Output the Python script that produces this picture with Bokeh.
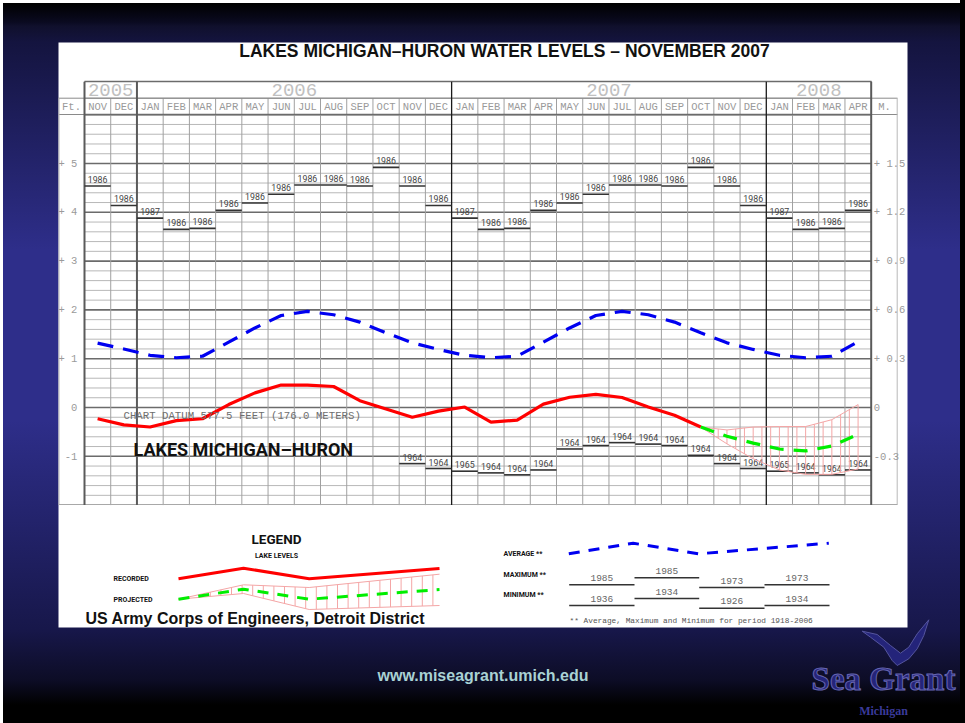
import numpy as np
from bokeh.embed import file_html
from bokeh.models import Range1d
from bokeh.plotting import figure
from bokeh.resources import INLINE
from bokeh.core.properties import value

# ---------- data ----------
months = ["NOV","DEC","JAN","FEB","MAR","APR","MAY","JUN","JUL","AUG","SEP","OCT","NOV","DEC",
          "JAN","FEB","MAR","APR","MAY","JUN","JUL","AUG","SEP","OCT","NOV","DEC","JAN","FEB","MAR","APR"]
years = ["2005","2006","2007","2008"]
year_starts = [0, 2, 14, 26]
year_ends = [2, 14, 26, 30]
ft_ticks = [5, 4, 3, 2, 1, 0, -1]
ft_labels = ["+ 5","+ 4","+ 3","+ 2","+ 1","0","-1"]
m_ticks = [5, 4, 3, 2, 1, 0, -1]
m_labels = ["+ 1.5","+ 1.2","+ 0.9","+ 0.6","+ 0.3","0","-0.3"]

max_level = [4.54,4.14,3.88,3.65,3.67,4.04,4.19,4.37,4.56,4.56,4.54,4.92,4.54,4.14,
             3.88,3.65,3.67,4.04,4.19,4.37,4.56,4.56,4.54,4.92,4.54,4.14,3.88,3.65,3.67,4.04]
max_year = ["1986","1986","1987","1986","1986","1986","1986","1986","1986","1986","1986","1986","1986","1986",
            "1987","1986","1986","1986","1986","1986","1986","1986","1986","1986","1986","1986","1987","1986","1986","1986"]
min_index = list(range(12, 30))
min_level = [-1.15,-1.25,-1.305,-1.34,-1.38,-1.28,-0.85,-0.78,-0.72,-0.75,-0.78,-0.98,-1.15,-1.25,-1.305,-1.34,-1.38,-1.28]
min_year = ["1964","1964","1965","1964","1964","1964","1964","1964","1964","1964","1964","1964","1964","1964","1965","1964","1964","1964"]
average = [1.32,1.20,1.07,1.02,1.05,1.34,1.63,1.885,1.97,1.90,1.75,1.53,1.325,1.19,
           1.07,1.02,1.05,1.34,1.63,1.885,1.97,1.90,1.75,1.53,1.325,1.19,1.07,1.02,1.05,1.35]
recorded = [-0.23,-0.355,-0.40,-0.27,-0.23,0.06,0.30,0.46,0.46,0.43,0.14,-0.03,-0.20,-0.075,
            0.01,-0.30,-0.26,0.07,0.21,0.27,0.205,0.01,-0.16,-0.40]
proj_index = [23, 24, 25, 26, 27, 28, 29]
projected = [-0.40,-0.59,-0.73,-0.85,-0.89,-0.79,-0.55]
proj_upper = [-0.40,-0.46,-0.40,-0.39,-0.39,-0.25,0.06]
proj_lower = [-0.40,-0.745,-1.05,-1.28,-1.37,-1.37,-1.26]

title = "LAKES MICHIGAN\u2013HURON WATER LEVELS \u2013 NOVEMBER 2007"

leg_x = [178, 243, 308.7, 439]
leg_recorded = [578.3, 567.7, 578.3, 568]
leg_projected = [598.7, 588.7, 598.7, 589]
leg_upper = [598.7, 584.3, 587, 573.7]
leg_lower = [598.7, 593, 609, 605]
leg_avg_x = [568.3, 632.7, 698.3, 828.3]
leg_avg = [553.3, 542.7, 553.3, 542.7]
leg_step_x = [568.7, 634, 698.7, 764, 829]
leg_max = [584.3, 577.3, 587, 584.3]
leg_min = [605, 598, 607.7, 605]
leg_max_year = ["1985", "1985", "1973", "1973"]
leg_min_year = ["1936", "1934", "1926", "1934"]

# ---------- scales ----------
W, H = 965, 723
X0, XPM = 84.0, 26.223
Y0, YPF = 407.0, 48.8
p = figure(width=W, height=H, output_backend="svg", toolbar_location=None,
           x_range=Range1d(-X0 / XPM, (W - X0) / XPM),
           y_range=Range1d((Y0 - H) / YPF, Y0 / YPF),
           min_border=0, border_fill_color=None, background_fill_color=None,
           outline_line_color=None)
p.axis.visible = False
p.grid.visible = False
p.extra_x_ranges["px"] = Range1d(0, W)
p.extra_y_ranges["px"] = Range1d(H, 0)
PX = dict(x_range_name="px", y_range_name="px")

MONO = value("Liberation Mono")
COND = value("Roboto")
SANS = value("Liberation Sans")
CAD = "#9a9a9a"

# white sheet
p.quad(left=[58], right=[907], top=[42], bottom=[627], fill_color="white", line_color=None, **PX)

# grid
minor = [v / 10 for v in range(-20, 62, 2) if v % 10 != 0]
p.segment(x0=[0] * len(minor), x1=[30] * len(minor), y0=minor, y1=minor, line_color="#b8b8b8", line_width=1)
major = list(range(-1, 7))
p.segment(x0=[0] * len(major), x1=[30] * len(major), y0=major, y1=major, line_color="#6b6b6b", line_width=1.6)
vx = [i for i in range(1, 30) if i not in year_starts]
p.segment(x0=vx, x1=vx, y0=[-2] * len(vx), y1=[6 + 16.3 / YPF] * len(vx), line_color="#a0a0a0", line_width=1)

# header cells (page pixels)
p.segment(x0=[84, 84, 58, 58], x1=[871, 871, 897, 897], y0=[81, 97.7, 97.7, 114], y1=[81, 97.7, 97.7, 114],
          line_color="#8a8a8a", line_width=1, **PX)
p.segment(x0=[84, 84], x1=[871, 871], y0=[81, 114], y1=[81, 114], line_color="#6b6b6b", line_width=1.6, **PX)
p.segment(x0=[58.5, 896.7], x1=[58.5, 896.7], y0=[97.7, 97.7], y1=[504, 504], line_color="#b8b8b8", line_width=1, **PX)
p.segment(x0=[58], x1=[897], y0=[504], y1=[504], line_color="#a8a8a8", line_width=1, **PX)

# year separators
p.segment(x0=[0, 2, 30], x1=[0, 2, 30], y0=[-2] * 3, y1=[6 + 33 / YPF] * 3, line_color="#5a5a5a", line_width=2)
p.segment(x0=[14, 26], x1=[14, 26], y0=[-2] * 2, y1=[6 + 33 / YPF] * 2, line_color="#1a1a1a", line_width=1.3)

# axis texts
p.text(x=[i + 0.5 for i in range(30)], y=[6 + 8.2 / YPF] * 30, text=months, text_font=MONO, text_font_size="10.5px",
       text_color=CAD, text_align="center", text_baseline="middle")
p.text(x=[(a + b) / 2 for a, b in zip(year_starts, year_ends)], y=[6 + 25 / YPF] * 4, text=years, text_font=MONO,
       text_font_size="19px", text_color="#c0c0c0", text_align="center", text_baseline="middle")
p.text(x=[71], y=[106], text=["Ft."], text_font=MONO, text_font_size="10.5px", text_color=CAD,
       text_align="center", text_baseline="middle", **PX)
p.text(x=[884], y=[106], text=["M."], text_font=MONO, text_font_size="10.5px", text_color=CAD,
       text_align="center", text_baseline="middle", **PX)
p.text(x=[-0.27] * 7, y=ft_ticks, text=ft_labels, text_font=MONO, text_font_size="10.5px", text_color=CAD,
       text_align="right", text_baseline="middle")
p.text(x=[30.1] * 7, y=m_ticks, text=m_labels, text_font=MONO, text_font_size="10.5px", text_color=CAD,
       text_align="left", text_baseline="middle")

# monthly extremes
mi = np.arange(30)
p.segment(x0=mi, x1=mi + 1, y0=max_level, y1=max_level, line_color="#333333", line_width=1.6)
p.text(x=mi + 0.5, y=max_level, text=max_year, y_offset=-3, text_font=COND, text_font_size="8.8px",
       text_color="#444444", text_align="center", text_baseline="bottom")
mn = np.array(min_index)
p.segment(x0=mn, x1=mn + 1, y0=min_level, y1=min_level, line_color="#333333", line_width=1.6)
p.text(x=mn + 0.5, y=min_level, text=min_year, y_offset=-3, text_font=COND, text_font_size="8.8px",
       text_color="#444444", text_align="center", text_baseline="bottom")

# projection hatch
px_ = np.array(proj_index) + 0.5
hx = np.arange(23.5, 29.51, 1 / 3)
hu, hl = np.interp(hx, px_, proj_upper), np.interp(hx, px_, proj_lower)
p.segment(x0=hx, x1=hx, y0=hl, y1=hu, line_color="#f4a6a6", line_width=1)
p.line(px_, proj_upper, line_color="#f4a6a6", line_width=1)
p.line(px_, proj_lower, line_color="#f4a6a6", line_width=1)

# series
p.line(mi + 0.5, average, line_color="#0000f0", line_width=3.2, line_dash="16 10")
p.line(np.arange(len(recorded)) + 0.5, recorded, line_color="#ff0000", line_width=3.2)
p.line(px_, projected, line_color="#00ee00", line_width=3.2, line_dash="14 10")

# chart annotations
p.text(x=[123], y=[415], text=["CHART DATUM 577.5 FEET (176.0 METERS)"], text_font=MONO, text_font_size="10.7px",
       text_color="#6e6e6e", text_align="left", text_baseline="middle", **PX)
p.text(x=[133], y=[449], text=["LAKES MICHIGAN\u2013HURON"], text_font=COND, text_font_style="bold",
       text_font_size="18px", text_color="#111111", text_align="left", text_baseline="middle", **PX)
p.text(x=[504], y=[50], text=[title], text_font=SANS, text_font_style="bold", text_font_size="17.5px",
       text_color="#111111", text_align="center", text_baseline="middle", **PX)

# legend, left
p.text(x=[276], y=[538], text=["LEGEND"], text_font=COND, text_font_style="bold", text_font_size="13.5px",
       text_color="#111111", text_align="center", text_baseline="middle", **PX)
p.text(x=[276], y=[555], text=["LAKE LEVELS"], text_font=COND, text_font_style="bold", text_font_size="7px",
       text_color="#111111", text_align="center", text_baseline="middle", **PX)
p.text(x=[113, 113], y=[578.5, 599], text=["RECORDED", "PROJECTED"], text_font=COND, text_font_style="bold",
       text_font_size="7px", text_color="#111111", text_align="left", text_baseline="middle", **PX)
lhx = np.arange(178, 440, 10.6)
p.segment(x0=lhx, x1=lhx, y0=np.interp(lhx, leg_x, leg_lower), y1=np.interp(lhx, leg_x, leg_upper),
          line_color="#f4a6a6", line_width=1, **PX)
p.line(leg_x, leg_upper, line_color="#f4a6a6", line_width=1, **PX)
p.line(leg_x, leg_lower, line_color="#f4a6a6", line_width=1, **PX)
p.line(leg_x, leg_recorded, line_color="#ff0000", line_width=3, **PX)
p.line(leg_x, leg_projected, line_color="#00ee00", line_width=3, line_dash="11 9", **PX)
p.text(x=[85], y=[618], text=["US Army Corps of Engineers, Detroit District"], text_font=SANS, text_font_style="bold",
       text_font_size="16px", text_color="#111111", text_align="left", text_baseline="middle", **PX)

# legend, right
p.text(x=[503, 503, 503], y=[553.5, 574, 594.5], text=["AVERAGE **", "MAXIMUM **", "MINIMUM **"], text_font=COND,
       text_font_style="bold", text_font_size="7px", text_color="#111111", text_align="left",
       text_baseline="middle", **PX)
p.line(leg_avg_x, leg_avg, line_color="#0000f0", line_width=3, line_dash="11 9", **PX)
sx = np.array(leg_step_x)
p.segment(x0=sx[:-1], x1=sx[1:], y0=leg_max, y1=leg_max, line_color="#333333", line_width=1.4, **PX)
p.segment(x0=sx[:-1], x1=sx[1:], y0=leg_min, y1=leg_min, line_color="#333333", line_width=1.4, **PX)
cx = (sx[:-1] + sx[1:]) / 2
p.text(x=cx, y=leg_max, text=leg_max_year, y_offset=-4, text_font=MONO, text_font_size="9.5px", text_color="#666666",
       text_align="center", text_baseline="bottom", **PX)
p.text(x=cx, y=leg_min, text=leg_min_year, y_offset=-4, text_font=MONO, text_font_size="9.5px", text_color="#666666",
       text_align="center", text_baseline="bottom", **PX)
p.text(x=[569], y=[620], text=["** Average, Maximum and Minimum for period 1918-2006"], text_font=MONO,
       text_font_size="7.8px", text_color="#555555", text_align="left", text_baseline="middle", **PX)

# slide footer
p.text(x=[482.5], y=[675], text=["www.miseagrant.umich.edu"], text_font=SANS, text_font_style="bold",
       text_font_size="16px", text_color="#a9d2d4", text_align="center", text_baseline="middle", **PX)
gull_x = [861.7, 876.7, 890, 900, 908.3, 916.7, 928.3, 923.3, 916.7, 908.3, 896.7, 891.7, 883.3, 870]
gull_y = [630.7, 634, 645, 652.7, 646.7, 633.3, 619.3, 635, 648.3, 658.3, 665, 660, 646.7, 636.7]
p.patch(gull_x, gull_y, fill_color="#24247a", line_color="#55559f", line_width=1, **PX)
p.text(x=[883], y=[678], text=["Sea Grant"], text_font=value("Liberation Serif"), text_font_style="bold",
       text_font_size="33px", text_color="#24247a", text_outline_color="#6666b0", text_align="center",
       text_baseline="middle", **PX)
p.text(x=[883], y=[710], text=["Michigan"], text_font=value("Liberation Serif"), text_font_style="bold",
       text_font_size="12px", text_color="#3a3a9a", text_align="center", text_baseline="middle", **PX)

css = """<style>
html { background:
  linear-gradient(to right, #fff 0, #fff 3px, transparent 3px, transparent 960px, #000 960px),
  linear-gradient(to bottom, #fff 0, #fff 3px, #000 3px, #0a0a20 22px, #10102c 26px, #14143f 42px, #2e2e8a 250px,
                  #2e2e8a 420px, #17174a 630px, #0d0d26 680px, #000 705px);
  background-repeat: no-repeat; background-size: 100% 100%; height: 723px; }
html, body { margin: 0; padding: 0; overflow: hidden; background-color: transparent; }
</style></head>"""
open("out.html", "w").write(file_html(p, INLINE).replace("</head>", css, 1))
